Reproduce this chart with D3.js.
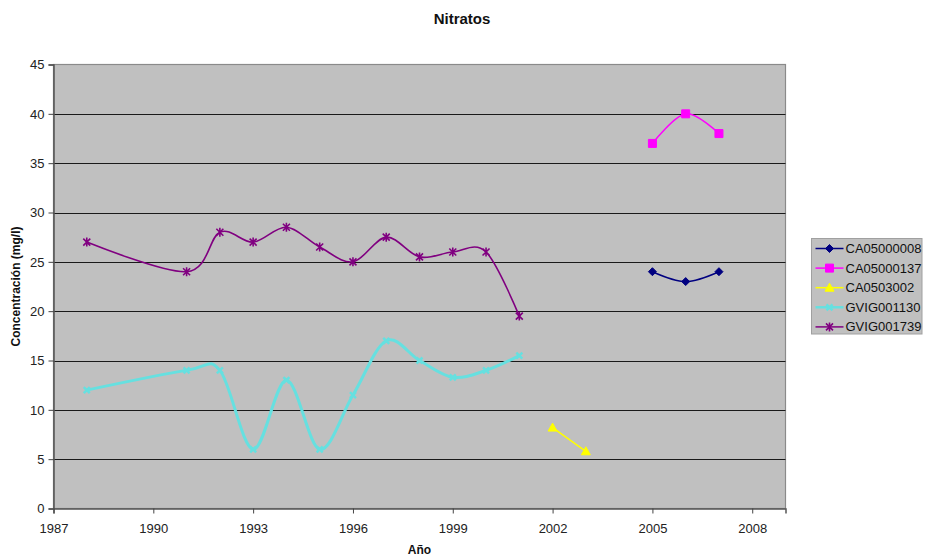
<!DOCTYPE html>
<html>
<head>
<meta charset="utf-8">
<script src="https://cdn.jsdelivr.net/npm/d3@7"></script>
<style>
  html, body { margin: 0; padding: 0; background: #fff; }
  svg { display: block; font-family: Arial, "Liberation Sans", sans-serif; }
</style>
</head>
<body>
<svg id="chart" width="926" height="560"></svg>
<script>
// Nitrate concentration (mg/l) per sampling point and year
const seriesNames = ["CA05000008", "CA05000137", "CA0503002", "GVIG001130", "GVIG001739"];
const seriesColors = ["#000080", "#ff00ff", "#ffff00", "#66e0e0", "#800080"];
const seriesMarkers = ["diamond", "square", "triangle", "cross", "star"];

const yearsCA05000008 = [2005, 2006, 2007];
const valuesCA05000008 = [24, 23, 24];

const yearsCA05000137 = [2005, 2006, 2007];
const valuesCA05000137 = [37, 40, 38];

const yearsCA0503002 = [2002, 2003];
const valuesCA0503002 = [8.2, 5.8];

const yearsGVIG001130 = [1988, 1991, 1992, 1993, 1994, 1995, 1996, 1997, 1998, 1999, 2000, 2001];
const valuesGVIG001130 = [12, 14, 14, 6, 13, 6, 11.5, 17, 15, 13.3, 14, 15.5];

const yearsGVIG001739 = [1988, 1991, 1992, 1993, 1994, 1995, 1996, 1997, 1998, 1999, 2000, 2001];
const valuesGVIG001739 = [27, 24, 28, 27, 28.5, 26.5, 25, 27.5, 25.5, 26, 26, 19.5];

const xTicks = [1987, 1990, 1993, 1996, 1999, 2002, 2005, 2008];
const yTicks = [0, 5, 10, 15, 20, 25, 30, 35, 40, 45];

const seriesYears = [yearsCA05000008, yearsCA05000137, yearsCA0503002, yearsGVIG001130, yearsGVIG001739];
const seriesValues = [valuesCA05000008, valuesCA05000137, valuesCA0503002, valuesGVIG001130, valuesGVIG001739];

const series = seriesNames.map((name, i) => ({
  name,
  color: seriesColors[i],
  marker: seriesMarkers[i],
  points: seriesYears[i].map((yr, j) => ({ x: yr, y: seriesValues[i][j] }))
}));

const svg = d3.select("#chart");
const plot = { left: 53.5, top: 64.5, right: 785.5, bottom: 508.5 };

const x = d3.scaleLinear().domain([1987, 2009]).range([plot.left, plot.right]);
const y = d3.scaleLinear().domain([0, 45]).range([plot.bottom, plot.top]);

// Plot background
svg.append("rect")
  .attr("x", plot.left).attr("y", plot.top)
  .attr("width", plot.right - plot.left).attr("height", plot.bottom - plot.top)
  .attr("fill", "#c0c0c0")
  .attr("stroke", "#8a8a8a").attr("stroke-width", 1.2);

// Horizontal gridlines
svg.append("g").selectAll("line")
  .data(yTicks.filter(v => v > 0 && v < 45))
  .join("line")
  .attr("x1", plot.left).attr("x2", plot.right)
  .attr("y1", d => Math.round(y(d)) + 0.5).attr("y2", d => Math.round(y(d)) + 0.5)
  .attr("stroke", "#1a1a1a").attr("stroke-width", 1);

// Axes
const yAxis = svg.append("g")
  .attr("transform", `translate(${plot.left},0)`)
  .call(d3.axisLeft(y).tickValues(yTicks).tickSize(5).tickPadding(4).tickFormat(d3.format("d")));
const xAxis = svg.append("g")
  .attr("transform", `translate(0,${plot.bottom})`)
  .call(d3.axisBottom(x).tickValues(xTicks).tickSize(5).tickPadding(10).tickFormat(d3.format("d")));

[yAxis, xAxis].forEach(g => {
  g.select(".domain").attr("stroke", "#555").attr("stroke-width", 1.5);
  g.selectAll(".tick line").attr("stroke", "#444");
  g.selectAll(".tick text").attr("fill", "#222").style("font-size", "13px")
    .style("font-family", "Arial, 'Liberation Sans', sans-serif");
});

// Marker shapes
function markerPath(type) {
  switch (type) {
    case "diamond": return "M0,-4L4,0L0,4L-4,0Z";
    case "square": return "M-4,-4H4V4H-4Z";
    case "triangle": return "M0,-4.5L4.5,3.5H-4.5Z";
    case "cross": return "M-3,-3L3,3M-3,3L3,-3";
    case "star": return "M-3.5,-3.5L3.5,3.5M-3.5,3.5L3.5,-3.5M0,-4.5V4.5";
  }
}
function drawMarker(sel, s) {
  const open = s.marker === "cross" || s.marker === "star";
  sel.append("path")
    .attr("d", markerPath(s.marker))
    .attr("fill", open ? "none" : s.color)
    .attr("stroke", s.color)
    .attr("stroke-width", open ? (s.marker === "cross" ? 2.5 : 1.6) : 1);
}

// Smoothed lines
const line = d3.line()
  .x(d => x(d.x)).y(d => y(d.y))
  .curve(d3.curveCardinal.tension(0));

const widths = { CA05000008: 1.5, CA05000137: 1.5, CA0503002: 1.5, GVIG001130: 3, GVIG001739: 1.6 };

series.forEach(s => {
  const g = svg.append("g").attr("class", "series");
  g.append("path")
    .datum(s.points)
    .attr("d", line)
    .attr("fill", "none")
    .attr("stroke", s.color)
    .attr("stroke-width", widths[s.name]);
  g.selectAll("g.pt")
    .data(s.points)
    .join("g").attr("class", "pt")
    .attr("transform", d => `translate(${x(d.x)},${y(d.y)})`)
    .each(function () { drawMarker(d3.select(this), s); });
});

// Title and axis titles
svg.append("text")
  .attr("x", 462).attr("y", 24)
  .attr("text-anchor", "middle")
  .style("font-size", "15px").style("font-weight", "bold").attr("fill", "#111")
  .text("Nitratos");

svg.append("text")
  .attr("x", (plot.left + plot.right) / 2).attr("y", 554)
  .attr("text-anchor", "middle")
  .style("font-size", "12px").style("font-weight", "bold").attr("fill", "#111")
  .text("Año");

svg.append("text")
  .attr("transform", `translate(20,${(plot.top + plot.bottom) / 2}) rotate(-90)`)
  .attr("text-anchor", "middle")
  .style("font-size", "12px").style("font-weight", "bold").attr("fill", "#111")
  .text("Concentración (mg/l)");

// Legend
const legend = svg.append("g").attr("transform", "translate(811.5,238.5)");
legend.append("rect")
  .attr("width", 110.5).attr("height", 95.5)
  .attr("fill", "#c0c0c0").attr("stroke", "#a0a0a0").attr("stroke-width", 1);

series.forEach((s, i) => {
  const row = legend.append("g").attr("transform", `translate(0,${10 + i * 19.6})`);
  row.append("line")
    .attr("x1", 4).attr("x2", 32)
    .attr("stroke", s.color).attr("stroke-width", s.name === "GVIG001130" ? 2.5 : 1.5);
  drawMarker(row.append("g").attr("transform", "translate(18,0)"), s);
  row.append("text")
    .attr("x", 34).attr("y", 0).attr("dy", "0.35em")
    .style("font-size", "13px").attr("fill", "#111")
    .text(s.name);
});
</script>
</body>
</html>
